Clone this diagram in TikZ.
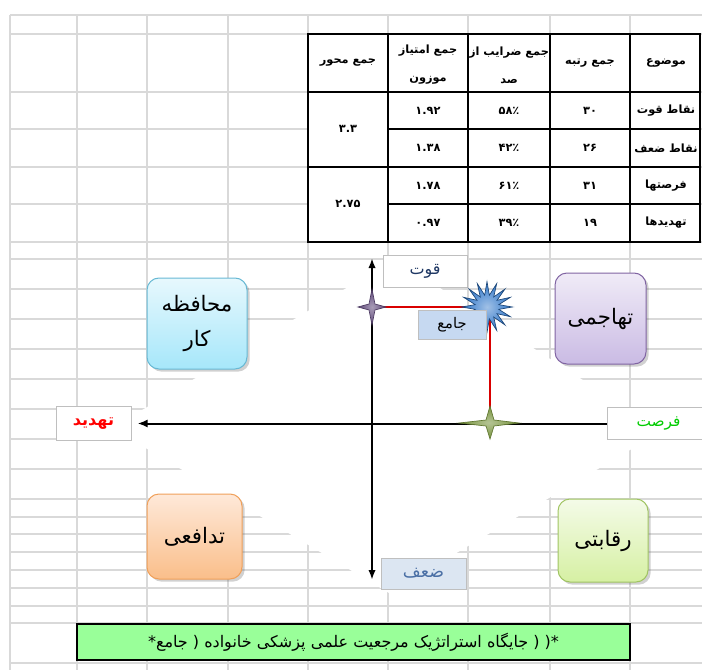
\documentclass[tikz,border=0pt]{standalone}
\usepackage{fontspec}
\usepackage{tikz}
\usetikzlibrary{arrows.meta,shapes.geometric,shadows,backgrounds}
\TeXXeTstate=1
\newfontfamily\farsi[Script=Arabic]{DejaVu Sans}
\newcommand{\fatext}[1]{\beginR #1\endR}

\definecolor{gridgray}{RGB}{217,217,217}
\definecolor{boxgray}{RGB}{191,191,191}
\definecolor{bannergreen}{RGB}{153,255,153}
\definecolor{qovatblue}{RGB}{31,56,100}
\definecolor{zaafblue}{RGB}{74,111,165}
\definecolor{zaaffill}{RGB}{220,230,242}
\definecolor{jamefill}{RGB}{198,217,241}
\definecolor{forsatgreen}{RGB}{0,204,0}
\definecolor{starpurple}{RGB}{96,74,123}
\definecolor{starblue}{RGB}{46,117,200}
\definecolor{stargreen}{RGB}{119,147,60}
\definecolor{cyantop}{RGB}{231,248,253}
\definecolor{cyanbot}{RGB}{166,231,250}
\definecolor{cyanline}{RGB}{104,185,212}
\definecolor{lilactop}{RGB}{240,235,247}
\definecolor{lilacbot}{RGB}{202,187,228}
\definecolor{lilacline}{RGB}{128,100,162}
\definecolor{orangetop}{RGB}{254,233,217}
\definecolor{orangebot}{RGB}{250,190,138}
\definecolor{orangeline}{RGB}{240,160,90}
\definecolor{limetop}{RGB}{244,251,232}
\definecolor{limebot}{RGB}{214,240,163}
\definecolor{limeline}{RGB}{160,196,98}

\begin{document}
\begin{tikzpicture}[x=0.75pt,y=0.75pt,yscale=-1,xscale=1,
  cell/.style={inner sep=0pt,font=\farsi\bfseries\fontsize{8.5}{21}\selectfont,align=center},
  quad/.style={draw=#1,rounded corners=9pt,line width=0.75pt,inner sep=0pt,align=center,
    font=\farsi\fontsize{16}{26}\selectfont,
    drop shadow={shadow xshift=2pt,shadow yshift=-2pt,opacity=0.3,fill=black!60}},
  lbl/.style={draw=boxgray,line width=0.75pt,inner sep=0pt,font=\farsi\fontsize{12}{14}\selectfont},
  axisln/.style={line width=1.5pt,black},
  redln/.style={line width=1pt,red!85!black}]
\useasboundingbox (0,0) rectangle (702,670);

%Grid: spreadsheet cells
\foreach \gx in {10,77,147,228,308,388,468,550,630}
  \draw[gridgray,line width=1pt] (\gx,15) -- (\gx,670);
\foreach \gy in {15,34,92,129,167,204,242,259,289,319,349,379,409,439,469,499,517,534,552,570,588,606,623,663}
  \draw[gridgray,line width=1pt] (10,\gy) -- (702,\gy);
%Shape: Diamond (blank chart area)
\fill[white] (395,259) -- (662,431) -- (389,593) -- (112,428) -- cycle;

%Shape: Rectangle (table)
\draw[fill=white,line width=1.5pt] (308,34) rectangle (700,242);
\draw[line width=1.5pt] (308,92) -- (700,92);
\draw[line width=1.5pt] (388,129) -- (700,129);
\draw[line width=1.5pt] (308,167) -- (700,167);
\draw[line width=1.5pt] (388,204) -- (700,204);
\foreach \tx in {388,468,550,630}
  \draw[line width=1.5pt] (\tx,34) -- (\tx,242);

% Text Node
\draw (348,63) node (hmehvar) [cell] {\fatext{جمع محور}};
\draw (428,65) node (hemtiaz) [cell] {\fatext{جمع امتیاز}\\\fatext{موزون}};
\draw (509,65) node (hzarib) [cell] {\fatext{جمع ضرایب از}\\\fatext{صد}};
\draw (590,63) node (hrotbe) [cell] {\fatext{جمع رتبه}};
\draw (666,63) node (hmozu) [cell] {\fatext{موضوع}};
% Text Node
\draw (666,111) node (rqovat) [cell] {\fatext{نقاط قوت}};
\draw (666,148) node (rzaaf) [cell] {\fatext{نقاط ضعف}};
\draw (666,186) node (rforsat) [cell] {\fatext{فرصتها}};
\draw (666,223) node (rtahdid) [cell] {\fatext{تهدیدها}};
% Text Node
\draw (590,111) node (rotbe1) [cell] {۳۰};
\draw (590,148) node (rotbe2) [cell] {۲۶};
\draw (590,186) node (rotbe3) [cell] {۳۱};
\draw (590,223) node (rotbe4) [cell] {۱۹};
\draw (509,111) node (zarib1) [cell] {۵۸٪};
\draw (509,148) node (zarib2) [cell] {۴۲٪};
\draw (509,186) node (zarib3) [cell] {۶۱٪};
\draw (509,223) node (zarib4) [cell] {۳۹٪};
\draw (428,111) node (emtiaz1) [cell] {۱.۹۲};
\draw (428,148) node (emtiaz2) [cell] {۱.۳۸};
\draw (428,186) node (emtiaz3) [cell] {۱.۷۸};
\draw (428,223) node (emtiaz4) [cell] {۰.۹۷};
\draw (348,129) node (mehvar1) [cell] {۳.۳};
\draw (348,204) node (mehvar2) [cell] {۲.۷۵};

%Shape: Rounded Rectangle (strategy quadrants)
\draw (197,323.5) node (mohafeze) [quad=cyanline,top color=cyantop,bottom color=cyanbot,minimum width=75pt,minimum height=68.25pt] {\fatext{محافظه}\\\fatext{کار}};
\draw (600.5,318.5) node (tahajomi) [quad=lilacline,top color=lilactop,bottom color=lilacbot,minimum width=68.25pt,minimum height=68.25pt] {\fatext{تهاجمی}};
\draw (194.5,536.5) node (tadafoi) [quad=orangeline,top color=orangetop,bottom color=orangebot,minimum width=71.25pt,minimum height=63.75pt] {\fatext{تدافعی}};
\draw (603,540.5) node (reqabati) [quad=limeline,top color=limetop,bottom color=limebot,minimum width=67.5pt,minimum height=62.25pt] {\fatext{رقابتی}};

%Shape: Axis labels
\draw (425,271) node (qovat) [lbl,fill=white,text=qovatblue,minimum width=63pt,minimum height=24pt] {\fatext{قوت}};
\draw (423.5,573.5) node (zaaf) [lbl,fill=zaaffill,text=zaafblue,minimum width=63.75pt,minimum height=23.25pt,font=\farsi\fontsize{13}{15}\selectfont] {\fatext{ضعف}};
\draw (93.5,423.5) node (tahdid) [lbl,fill=white,text=red,minimum width=56.25pt,minimum height=25.5pt] {\bfseries\fatext{تهدید}};
\draw (658.5,423.5) node (forsat) [lbl,fill=white,text=forsatgreen,minimum width=77.25pt,minimum height=24pt,font=\farsi\fontsize{11.5}{14}\selectfont] {\fatext{فرصت}};

%Straight Lines: axes
\coordinate (ytop) at (372,258);
\coordinate (ybot) at (372,580);
\draw[axisln,{Latex[length=7.5pt,width=5.5pt]}-{Latex[length=7.5pt,width=5.5pt]}] (ytop) -- (ybot);
\draw[axisln,-{Latex[length=7.5pt,width=6pt]},shorten >=4.5pt] (forsat.west) -- (tahdid.east);

%Straight Lines: position of the organisation
\coordinate (pstar) at (372,307);
\coordinate (bstar) at (487,307);
\coordinate (gstar) at (490,423);
\draw[redln] (pstar) -| (gstar);

%Shape: Star (4 points, purple)
\draw[starpurple!80!black,line width=0.5pt,inner color=starpurple!55!white,outer color=starpurple]
  (358,307) -- (369,304) -- (372,289) -- (375,304) -- (386,307) -- (375,310) -- (372,325) -- (369,310) -- cycle;
%Shape: Star (4 points, green)
\draw[stargreen!80!black,line width=0.5pt,inner color=stargreen!55!white,outer color=stargreen]
  (459,423) -- (486,420) -- (490,406) -- (494,420) -- (519,423) -- (494,426) -- (490,439) -- (486,426) -- cycle;
%Shape: Star (burst, blue)
\draw (bstar) node (burst) [star,star points=16,star point ratio=2.1,minimum size=38pt,inner sep=0pt,draw=starblue!60!black,line width=0.5pt,inner color=starblue!45!white,outer color=starblue] {};

% Text Node
\draw (452,324.5) node (jame) [lbl,fill=jamefill,minimum width=51pt,minimum height=21.75pt,font=\farsi\fontsize{11}{13}\selectfont] {\fatext{جامع}};

% Text Node: title bar
\draw (353.5,642) node (banner) [draw=black,line width=1.5pt,fill=bannergreen,minimum width=414.75pt,minimum height=27pt,inner sep=0pt,font=\farsi\fontsize{12}{14}\selectfont] {\fatext{*( ( جایگاه استراتژیک مرجعیت علمی پزشکی خانواده ( جامع*}};

\end{tikzpicture}
\end{document}
